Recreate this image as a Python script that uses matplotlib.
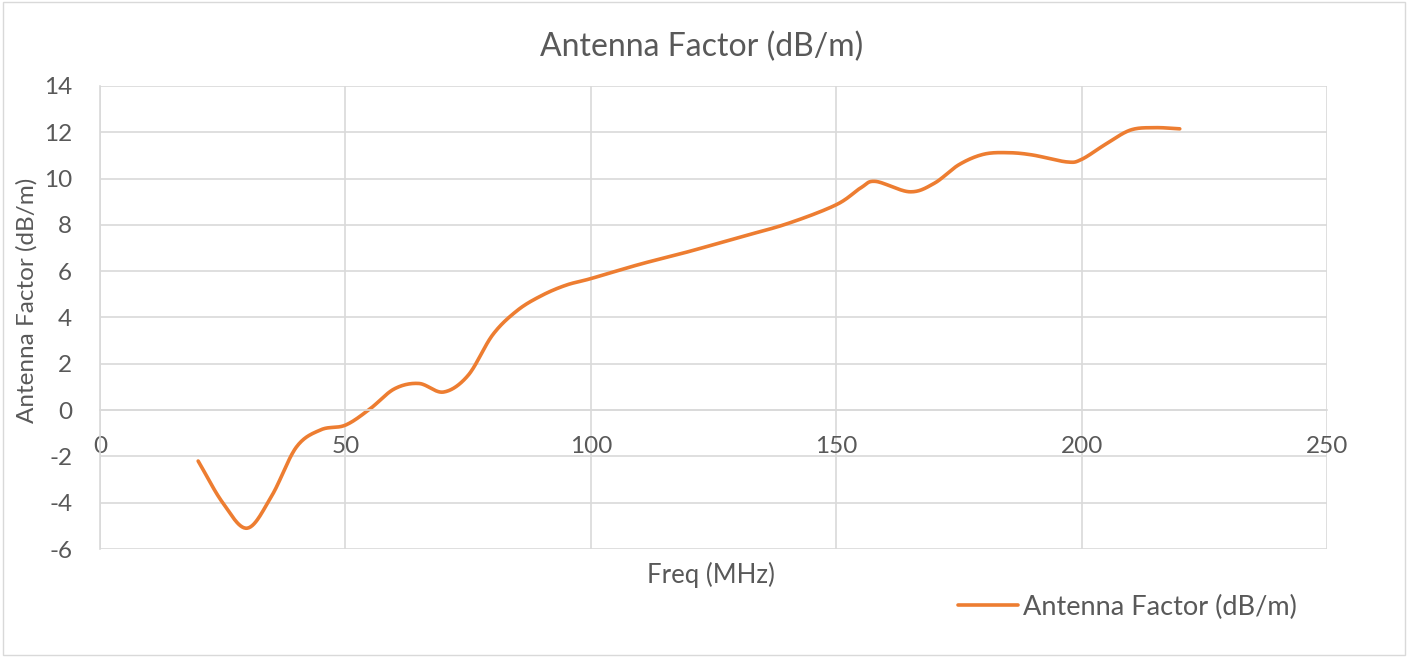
import numpy as np
import matplotlib
matplotlib.use("Agg")
import matplotlib.pyplot as plt
from matplotlib.patches import Rectangle

# data
freq = [20, 25, 30, 35, 40, 45, 50, 55, 60, 65, 70, 75, 80, 85, 90, 95, 100,
        110, 120, 130, 140, 150, 155, 158, 165, 170, 175, 180, 185, 190,
        197, 200, 205, 210, 215, 220]
af = [-2.2, -4.0, -5.1, -3.7, -1.6, -0.85, -0.65, 0.05, 0.92, 1.15, 0.78, 1.5,
      3.25, 4.3, 4.95, 5.4, 5.68, 6.3, 6.85, 7.45, 8.05, 8.87, 9.6, 9.88,
      9.43, 9.8, 10.6, 11.05, 11.12, 11.02, 10.72, 10.83, 11.5, 12.1, 12.2, 12.15]

xticks = [0, 50, 100, 150, 200, 250]
yticks = [-6, -4, -2, 0, 2, 4, 6, 8, 10, 12, 14]

GREY = "#595959"
ORANGE = "#ED7D31"


def smooth(x, y, n=30):
    # catmull-rom style smoothing, like excel's smoothed line
    x = np.asarray(x, float)
    y = np.asarray(y, float)
    px = np.concatenate([[2 * x[0] - x[1]], x, [2 * x[-1] - x[-2]]])
    py = np.concatenate([[2 * y[0] - y[1]], y, [2 * y[-1] - y[-2]]])
    xs, ys = [], []
    t = np.linspace(0, 1, n)
    for i in range(1, len(px) - 2):
        p0, p1, p2, p3 = [np.array([px[j], py[j]]) for j in (i - 1, i, i + 1, i + 2)]
        c1 = p1 + (p2 - p0) / 6
        c2 = p2 - (p3 - p1) / 6
        pts = ((1 - t) ** 3)[:, None] * p1 + (3 * (1 - t) ** 2 * t)[:, None] * c1 \
            + (3 * (1 - t) * t ** 2)[:, None] * c2 + (t ** 3)[:, None] * p2
        xs.extend(pts[:, 0])
        ys.extend(pts[:, 1])
    return np.array(xs), np.array(ys)


plt.rcParams['font.family'] = ['Lato', 'DejaVu Sans']
plt.rcParams['axes.unicode_minus'] = False

fig = plt.figure(figsize=(14.08, 6.57), dpi=100)
fig.patches.append(Rectangle((0.002, 0.003), 0.996, 0.994, transform=fig.transFigure,
                             fill=False, edgecolor="#d9d9d9", linewidth=1))
ax = fig.add_axes([100 / 1408, 1 - 549 / 657, 1227 / 1408, 463 / 657])

sx, sy = smooth(freq, af)
ax.plot(sx, sy, color=ORANGE, linewidth=2.6, solid_capstyle="round",
        label="Antenna Factor (dB/m)")

ax.set_xlim(0, 250)
ax.set_ylim(-6, 14)
ax.set_xticks(xticks)
ax.set_yticks(yticks)
ax.grid(True, color="#d9d9d9", linewidth=1.2)
ax.set_axisbelow(True)
for s in ["top", "right"]:
    ax.spines[s].set_visible(False)
ax.spines["left"].set_color("#d9d9d9")
ax.spines["left"].set_linewidth(1.2)
ax.spines["bottom"].set_position(("data", 0))
ax.spines["bottom"].set_color("#d9d9d9")
ax.spines["bottom"].set_linewidth(1.2)
ax.tick_params(length=0, labelsize=17.5, labelcolor=GREY)
ax.tick_params(axis="x", pad=19)
ax.tick_params(axis="y", pad=20)

fig.text(702 / 1408, 1 - 47 / 657, "Antenna Factor (dB/m)", ha="center", va="center",
         fontsize=23, color=GREY)
fig.text(711 / 1408, 1 - 575 / 657, "Freq (MHz)", ha="center", va="center",
         fontsize=18.5, color=GREY)
fig.text(27 / 1408, 1 - 300 / 657, "Antenna Factor (dB/m)", ha="center", va="center",
         rotation=90, fontsize=17.5, color=GREY)

leg = fig.legend(loc="center left", bbox_to_anchor=(958 / 1408, 1 - 607 / 657),
                 frameon=False, fontsize=19.5, handlelength=2.2, handletextpad=0.2,
                 borderaxespad=0, borderpad=0)
for t in leg.get_texts():
    t.set_color(GREY)

fig.savefig("out.png", dpi=100)
